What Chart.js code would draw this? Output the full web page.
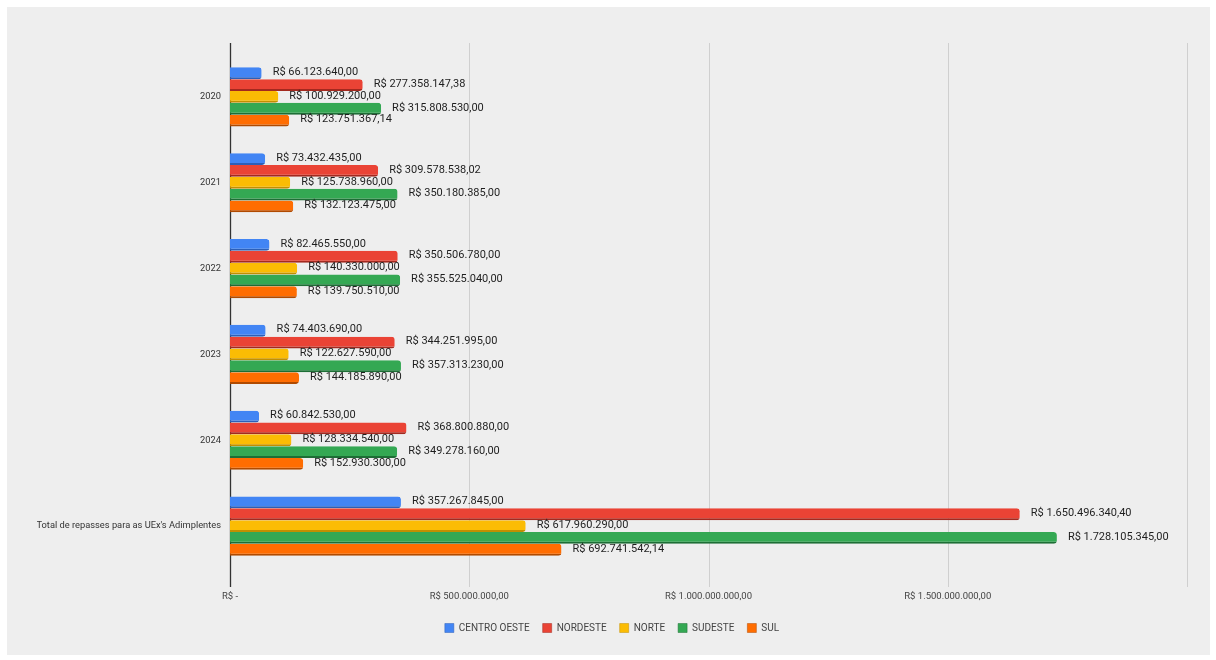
<!DOCTYPE html>
<html>
<head>
<meta charset="utf-8">
<script src="https://cdn.jsdelivr.net/npm/chart.js@4"></script>
<style>
  body { margin: 0; background: #ffffff; }
  #wrap { position: absolute; left: 7px; top: 7px; width: 1203px; height: 648px; background: #eeeeee; }
</style>
</head>
<body>
<div id="wrap"><canvas id="repasses" width="1203" height="648"></canvas></div>
<script>
const categories = ['2020', '2021', '2022', '2023', '2024', "Total de repasses para as UEx's Adimplentes"];

const centroOeste = [66123640.00, 73432435.00, 82465550.00, 74403690.00, 60842530.00, 357267845.00];
const nordeste = [277358147.38, 309578538.02, 350506780.00, 344251995.00, 368800880.00, 1650496340.40];
const norte = [100929200.00, 125738960.00, 140330000.00, 122627590.00, 128334540.00, 617960290.00];
const sudeste = [315808530.00, 350180385.00, 355525040.00, 357313230.00, 349278160.00, 1728105345.00];
const sul = [123751367.14, 132123475.00, 139750510.00, 144185890.00, 152930300.00, 692741542.14];

const xTicks = [0, 500000000, 1000000000, 1500000000, 2000000000];

// formato R$ 1.234,56
function brl(v) {
  const parts = v.toFixed(2).split('.');
  const inteiro = parts[0].replace(/\B(?=(\d{3})+(?!\d))/g, '.');
  return 'R$ ' + inteiro + ',' + parts[1];
}

const series = [
  { label: 'CENTRO OESTE', data: centroOeste, color: '#4285f4', shade: '#2c5fb8' },
  { label: 'NORDESTE', data: nordeste, color: '#ea4335', shade: '#a3291f' },
  { label: 'NORTE', data: norte, color: '#fbbc04', shade: '#c28f00' },
  { label: 'SUDESTE', data: sudeste, color: '#34a853', shade: '#1d6e35' },
  { label: 'SUL', data: sul, color: '#ff6d01', shade: '#b04a00' }
];

// linhas de grade verticais, um pouco mais longas que a area do grafico
const gridPlugin = {
  id: 'gridLines',
  beforeDatasetsDraw(chart) {
    const ctx = chart.ctx;
    const x = chart.scales.x;
    ctx.save();
    x.ticks.forEach(t => {
      const px = Math.round(x.getPixelForValue(t.value)) + 0.5;
      ctx.beginPath();
      ctx.strokeStyle = t.value === 0 ? '#333333' : '#cfcfcf';
      ctx.lineWidth = t.value === 0 ? 1.3 : 1;
      ctx.moveTo(px, 36);
      ctx.lineTo(px, 580);
      ctx.stroke();
    });
    ctx.restore();
  }
};

const labelPlugin = {
  id: 'valueLabels',
  afterDatasetsDraw(chart) {
    const ctx = chart.ctx;
    ctx.save();
    ctx.font = '11px Roboto';
    ctx.fillStyle = '#1e1e1e';
    ctx.textAlign = 'left';
    ctx.textBaseline = 'middle';
    chart.data.datasets.forEach((ds, i) => {
      chart.getDatasetMeta(i).data.forEach((bar, j) => {
        ctx.fillText(brl(ds.data[j]), bar.x + 11, bar.y - 1);
      });
    });
    ctx.restore();
  }
};

new Chart(document.getElementById('repasses'), {
  type: 'bar',
  data: {
    labels: categories,
    datasets: series.map(s => ({
      label: s.label,
      data: s.data,
      backgroundColor: s.color,
      borderColor: s.shade,
      borderWidth: { top: 0, right: 0, bottom: 2, left: 0 },
      borderSkipped: false,
      borderRadius: { topRight: 3, bottomRight: 3 },
      barPercentage: 1,
      categoryPercentage: 0.69
    }))
  },
  options: {
    indexAxis: 'y',
    responsive: false,
    animation: false,
    layout: { padding: { top: 47, right: 23, left: 30, bottom: 12 } },
    scales: {
      x: {
        min: 0,
        max: 2000000000,
        afterBuildTicks(scale) {
          scale.ticks = xTicks.map(v => ({ value: v }));
        },
        afterFit(scale) { scale.height = 41; },
        grid: { display: false, drawTicks: false },
        border: { display: false },
        ticks: {
          padding: 22,
          color: '#444444',
          font: { family: 'Roboto', size: 9.5 },
          maxRotation: 0,
          callback: v => v === 0 ? 'R$ -' : (v === 2000000000 ? '' : brl(v))
        }
      },
      y: {
        afterFit(scale) { scale.width = 193; },
        grid: { display: false, drawTicks: false },
        border: { display: false },
        ticks: {
          padding: 9,
          color: '#333333',
          font: { family: 'Roboto', size: 9.3 }
        }
      }
    },
    plugins: {
      legend: {
        position: 'bottom',
        labels: {
          boxWidth: 9,
          boxHeight: 9,
          padding: 13,
          color: '#444444',
          font: { family: 'Roboto', size: 10 }
        }
      },
      tooltip: { enabled: false }
    }
  },
  plugins: [gridPlugin, labelPlugin]
});
</script>
</body>
</html>
